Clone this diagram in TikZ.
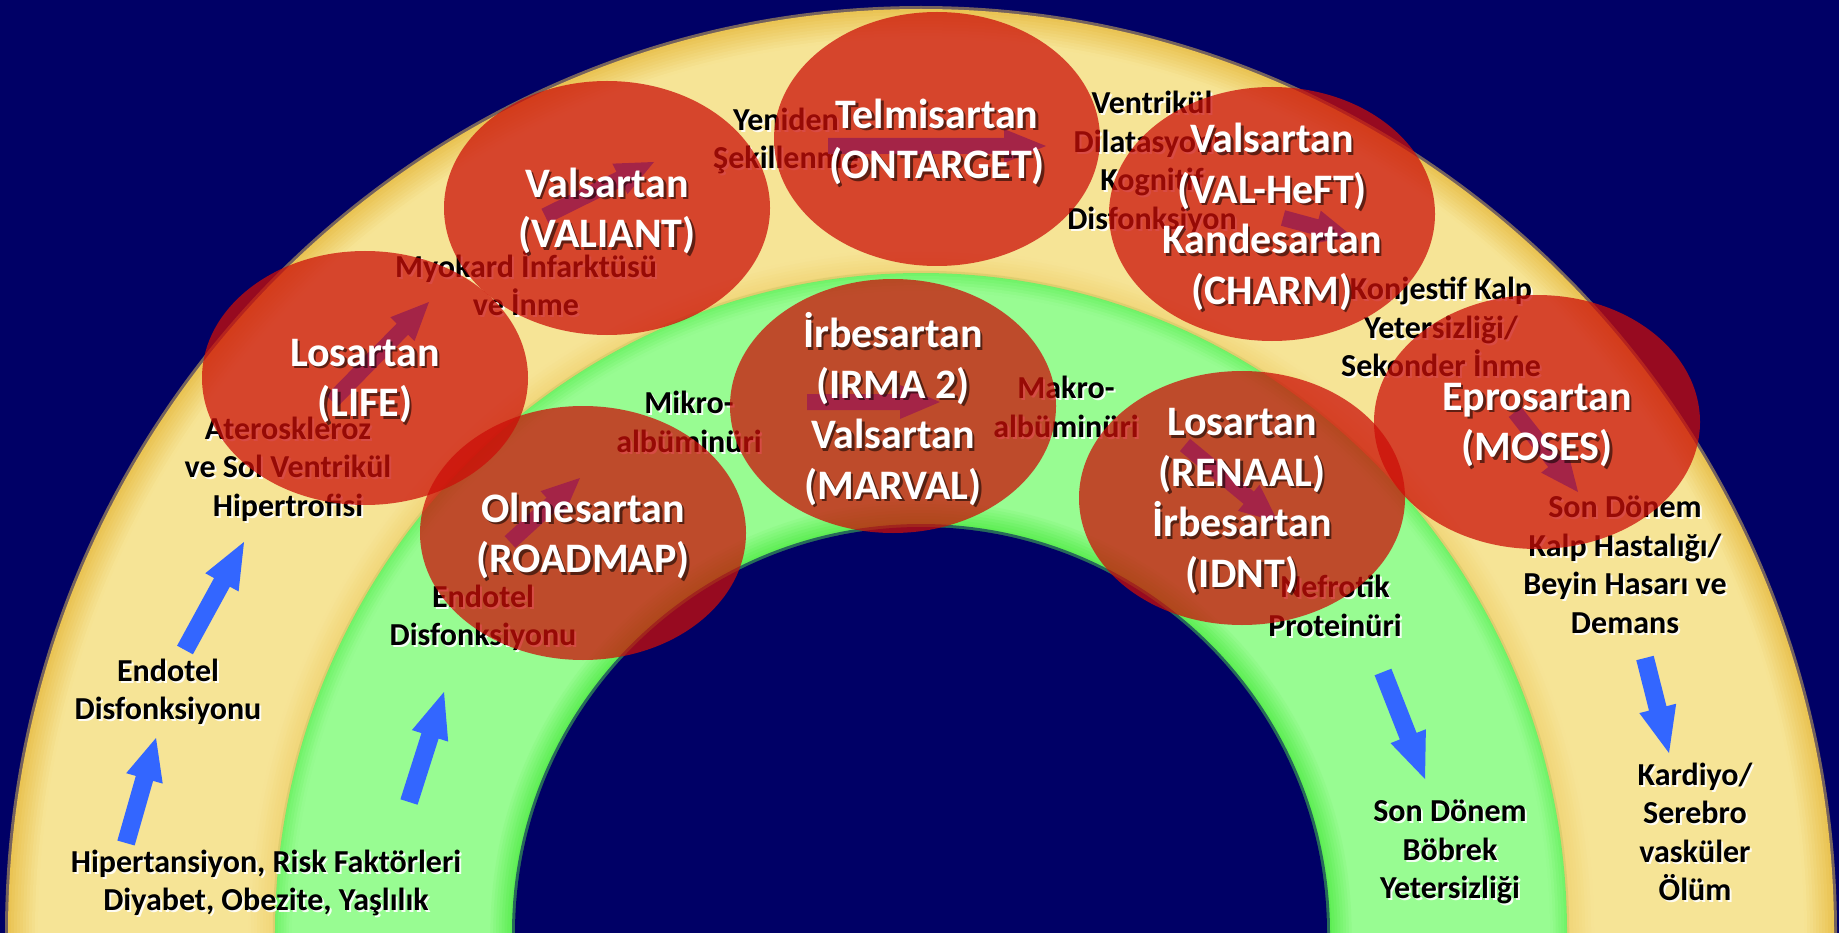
\documentclass[tikz,border=0pt]{standalone}
\usepackage{fontspec}
\setmainfont{Carlito}
\usetikzlibrary{calc,shapes.geometric}
\definecolor{navybg}{RGB}{0,0,102}
\definecolor{paleY}{RGB}{246,228,150}
\definecolor{goldY}{RGB}{234,196,84}
\definecolor{lightG}{RGB}{152,252,146}
\definecolor{brightG}{RGB}{84,236,74}
\definecolor{ovalred}{RGB}{204,14,8}
\definecolor{arrowblue}{RGB}{51,102,255}
\tikzset{
  oval/.style={ellipse, minimum width=326pt, minimum height=254pt, inner sep=0pt, draw=none, fill=ovalred, fill opacity=0.74},
  titletext/.style={text=white, font=\bfseries\fontsize{42}{50.5}\selectfont, align=center, inner sep=0pt},
  titleshade/.style={titletext, text=black, text opacity=0.55},
  lbltext/.style={text=black, font=\bfseries\fontsize{32}{38.5}\selectfont, align=center, inner sep=0pt},
  lblshade/.style={lbltext, text=white, text opacity=0.9},
}
% #1 name, #2 tail, #3 tip, #4 shaft half width, #5 head half width, #6 head length
\newcommand{\drawblockarrow}[6]{%
  \coordinate (#1-t) at (#2);
  \coordinate (#1-h) at (#3);
  \coordinate (#1-b) at ($(#1-h)!#6pt!(#1-t)$);
  \fill[arrowblue] ($(#1-t)!#4pt!90:(#1-h)$) -- ($(#1-b)!#4pt!90:(#1-h)$) -- ($(#1-b)!#5pt!90:(#1-h)$) -- (#1-h)
     -- ($(#1-b)!#5pt!-90:(#1-h)$) -- ($(#1-b)!#4pt!-90:(#1-h)$) -- ($(#1-t)!#4pt!-90:(#1-h)$) -- cycle;
}
\newcommand{\shadowlabel}[3]{%
  \node[lblshade] (#1-s) at ($(#2)+(2,2)$) {#3};
  \node[lbltext] (#1) at (#2) {#3};
}
\newcommand{\shadowtitle}[3]{%
  \node[titleshade] (#1-s) at ($(#2)+(2.5,5.5)$) {#3};
  \node[titletext] (#1) at ($(#2)+(0,3)$) {#3};
}
\begin{document}
\begin{tikzpicture}[x=1pt,y=-1pt]
\useasboundingbox (0,0) rectangle (1839,933);
\begin{scope}
\clip (0,0) rectangle (1839,933);
\fill[navybg] (0,0) rectangle (1839,933);
% yellow band
\fill[goldY!50!navybg] (921,933) ellipse[x radius=916pt, y radius=927pt];
\foreach \r in {924,921,...,663} {
  \pgfmathtruncatemacro{\t}{max(0,min(100,(924-\r)/28*100,60+(\r-663)/22*40))}
  \pgfmathsetmacro{\ra}{\r-11}
  \fill[paleY!\t!goldY] (921,933) ellipse[x radius=\ra pt, y radius=\r pt];
}
% green band
\foreach \r in {660,657,...,408} {
  \pgfmathtruncatemacro{\t}{max(0,min(100,45+(660-\r)/16*55,(\r-407)/28*100))}
  \pgfmathsetmacro{\ra}{407+(\r-407)*0.9447}
  \fill[lightG!\t!brightG] (921,933) ellipse[x radius=\ra pt, y radius=\r pt];
}
\draw[draw={rgb,255:red,150;green,170;blue,60}, draw opacity=0.2, line width=2.5pt] (921,933) ellipse[x radius=647pt, y radius=661pt];
\fill[brightG!45!navybg] (921,933) circle[radius=409pt];
\fill[navybg] (921,933) circle[radius=406pt];
\end{scope}

% labels (under the ovals)
\shadowlabel{hiper}{266,883}{Hipertansiyon, Risk Faktörleri\\Diyabet, Obezite, Yaşlılık}
\shadowlabel{endo1}{168,692}{Endotel\\Disfonksiyonu}
\shadowlabel{ater}{288,469}{Ateroskleroz\\ve Sol Ventrikül\\Hipertrofisi}
\shadowlabel{myo}{526,283}{Myokard İnfarktüsü\\ve İnme}
\shadowlabel{yeni}{786,141}{Yeniden\\Şekillenme}
\shadowlabel{vent}{1152,163}{Ventrikül\\Dilatasyonu\\Kognitif\\Disfonksiyon}
\shadowlabel{konj}{1441,327}{Konjestif Kalp\\Yetersizliği/\\Sekonder İnme}
\shadowlabel{sonk}{1625,565}{Son Dönem\\Kalp Hastalığı/\\Beyin Hasarı ve\\Demans}
\shadowlabel{kard}{1695,832}{Kardiyo/\\Serebro\\vasküler\\Ölüm}
\shadowlabel{sonb}{1450,852}{Son Dönem\\Böbrek\\Yetersizliği}
\shadowlabel{nefr}{1335,606}{Nefrotik\\Proteinüri}
\shadowlabel{makro}{1066,407}{Makro-\\albüminüri}
\shadowlabel{mikro}{689,422}{Mikro-\\albüminüri}
\shadowlabel{endo2}{483,618}{Endotel\\Disfonksiyonu}

% arrows inside ovals (seen through the red)
\drawblockarrow{ia1}{332,401}{429,302}{8}{17}{38}
\drawblockarrow{ia2}{545,216}{654,162}{8}{17}{38}
\drawblockarrow{ia3}{828,146}{1046,146}{8}{17}{42}
\drawblockarrow{ia4}{1283,218}{1353,237}{8}{17}{38}
\drawblockarrow{ia5}{1515,412}{1578,492}{8}{17}{38}
\drawblockarrow{ia6}{807,402}{940,402}{8}{17}{40}
\drawblockarrow{ia7}{510,542}{580,478}{8}{17}{38}
\drawblockarrow{ia8}{1185,445}{1278,522}{8}{17}{38}

% ovals
\node[oval] (life) at (365,378) {};
\node[oval] (valiant) at (607,208) {};
\node[oval] (ontarget) at (937,139) {};
\node[oval] (charm) at (1272,214) {};
\node[oval] (moses) at (1537,422) {};
\node[oval] (marval) at (893,406) {};
\node[oval] (roadmap) at (583,533) {};
\node[oval] (renaal) at (1242,498) {};

% visible blue arrows
\drawblockarrow{ba1}{126,843}{156,738}{9}{19}{42}
\drawblockarrow{ba2}{185,650}{244,542}{9}{19}{46}
\drawblockarrow{ba3}{409,802}{444,692}{9}{19}{46}
\drawblockarrow{ba4}{1383,672}{1425,779}{9}{19}{46}
\drawblockarrow{ba5}{1645,658}{1669,753}{9}{19}{46}

% titles
\shadowtitle{life-t}{life}{Losartan\\(LIFE)}
\shadowtitle{valiant-t}{valiant}{Valsartan\\(VALIANT)}
\shadowtitle{ontarget-t}{ontarget}{Telmisartan\\(ONTARGET)}
\shadowtitle{charm-t}{charm}{Valsartan\\(VAL-HeFT)\\Kandesartan\\(CHARM)}
\shadowtitle{moses-t}{moses}{Eprosartan\\(MOSES)}
\shadowtitle{marval-t}{marval}{İrbesartan\\(IRMA 2)\\Valsartan\\(MARVAL)}
\shadowtitle{roadmap-t}{roadmap}{Olmesartan\\(ROADMAP)}
\shadowtitle{renaal-t}{renaal}{Losartan\\(RENAAL)\\İrbesartan\\(IDNT)}
\end{tikzpicture}
\end{document}
